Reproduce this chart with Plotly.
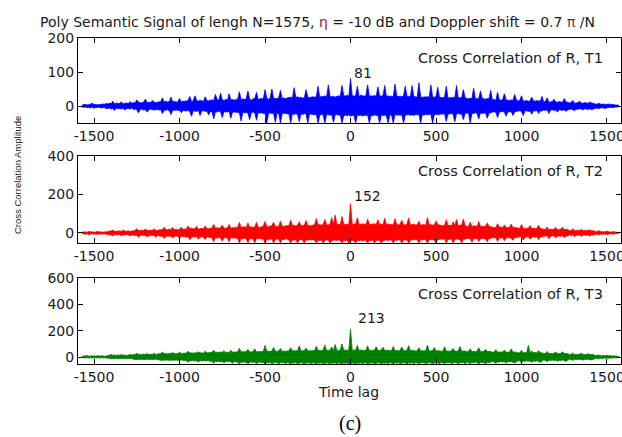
import plotly.graph_objects as go

# ---------------- data ----------------
# The 1575-sample correlations are far denser than the pixels of the picture,
# so each series is read off as its per-10-lag upper and lower envelope.
lags = list(range(-1570, 1571, 10))

t1_upper = [
    3, 4, 5, 3, 4, 6, 8, 4, 5, 3, 5, 4, 6, 5, 7,
    6, 8, 7, 14, 6, 9, 7, 8, 12, 6, 8, 9, 7, 13, 8,
    10, 9, 18, 11, 10, 9, 12, 20, 10, 11, 9, 16, 12, 10, 11,
    12, 13, 24, 11, 14, 12, 13, 26, 12, 14, 11, 13, 22, 12, 14,
    14, 15, 16, 28, 13, 15, 30, 16, 14, 17, 15, 14, 27, 16, 15,
    17, 18, 16, 34, 19, 17, 38, 18, 16, 20, 17, 36, 18, 19, 17,
    19, 20, 42, 18, 21, 19, 22, 44, 20, 18, 21, 22, 40, 19, 21,
    22, 21, 48, 23, 20, 24, 50, 22, 23, 21, 25, 46, 22, 24, 21,
    24, 25, 26, 23, 54, 25, 27, 24, 26, 23, 25, 48, 27, 24, 26,
    27, 26, 28, 58, 25, 29, 27, 30, 26, 62, 28, 27, 29, 26, 28,
    30, 28, 60, 31, 29, 32, 28, 81, 30, 29, 31, 58, 28, 32, 30,
    29, 31, 62, 28, 30, 29, 31, 28, 56, 30, 29, 31, 60, 28, 30,
    28, 29, 27, 64, 30, 28, 29, 27, 30, 58, 28, 29, 27, 60, 28,
    27, 26, 68, 28, 25, 27, 26, 28, 25, 62, 27, 26, 28, 55, 26,
    25, 24, 26, 58, 23, 25, 24, 26, 24, 60, 23, 25, 24, 48, 25,
    22, 21, 23, 22, 52, 20, 22, 21, 44, 23, 21, 20, 22, 21, 46,
    18, 19, 17, 40, 18, 17, 19, 36, 18, 17, 16, 18, 17, 34, 18,
    15, 16, 30, 14, 15, 16, 14, 15, 26, 15, 14, 16, 15, 14, 28,
    12, 13, 24, 11, 12, 13, 20, 12, 11, 13, 12, 11, 22, 12, 11,
    9, 10, 16, 8, 9, 10, 14, 9, 8, 10, 9, 8, 12, 9, 8,
    6, 5, 8, 6, 5, 6, 4, 5, 6, 4, 5, 4, 3, 3, 2,
]
t1_lower = [
    -3, -4, -3, -5, -4, -6, -3, -7, -4, -5, -3, -6, -5, -4, -8,
    -7, -6, -9, -7, -13, -6, -8, -7, -9, -6, -12, -8, -7, -9, -6,
    -10, -9, -11, -20, -10, -9, -12, -10, -18, -11, -9, -10, -12, -11, -10,
    -12, -11, -22, -13, -12, -11, -14, -25, -12, -13, -11, -14, -12, -20, -13,
    -14, -15, -13, -16, -30, -14, -15, -16, -13, -28, -15, -14, -16, -15, -26,
    -16, -17, -38, -16, -18, -15, -17, -34, -16, -18, -17, -16, -36, -17, -18,
    -18, -19, -20, -44, -18, -20, -19, -21, -40, -19, -18, -20, -42, -19, -21,
    -20, -22, -21, -50, -23, -20, -22, -21, -48, -22, -21, -50, -23, -21, -22,
    -23, -24, -50, -22, -25, -23, -24, -46, -23, -25, -22, -24, -50, -23, -24,
    -25, -26, -24, -50, -27, -25, -26, -50, -24, -26, -27, -25, -48, -26, -25,
    -27, -26, -50, -28, -27, -29, -26, -30, -28, -27, -50, -26, -28, -27, -29,
    -27, -28, -26, -50, -27, -29, -26, -28, -27, -50, -26, -28, -27, -29, -50,
    -26, -27, -50, -25, -27, -26, -28, -25, -50, -27, -26, -25, -27, -26, -28,
    -25, -26, -24, -50, -25, -27, -24, -26, -25, -24, -50, -26, -25, -24, -26,
    -23, -24, -22, -45, -24, -23, -22, -24, -46, -23, -22, -24, -23, -40, -22,
    -21, -20, -50, -21, -22, -20, -21, -38, -20, -22, -21, -20, -36, -21, -20,
    -18, -17, -19, -34, -18, -17, -16, -18, -30, -17, -18, -16, -28, -17, -16,
    -15, -14, -16, -28, -15, -14, -16, -15, -24, -14, -15, -13, -22, -14, -15,
    -12, -13, -11, -22, -12, -11, -13, -12, -18, -11, -12, -13, -11, -16, -12,
    -10, -9, -11, -14, -9, -10, -8, -9, -12, -8, -9, -10, -8, -11, -9,
    -7, -6, -8, -6, -5, -6, -7, -5, -4, -5, -4, -5, -3, -3, -2,
]

t2_upper = [
    4, 5, 6, 4, 9, 5, 6, 4, 5, 8, 6, 5, 4, 6, 5,
    8, 9, 11, 16, 8, 10, 9, 11, 8, 15, 10, 9, 11, 8, 10,
    12, 14, 22, 13, 12, 15, 13, 20, 14, 12, 15, 13, 22, 14, 13,
    16, 18, 17, 30, 19, 16, 20, 18, 28, 17, 19, 16, 20, 30, 18,
    21, 20, 36, 22, 24, 21, 23, 34, 20, 22, 24, 21, 36, 23, 22,
    25, 26, 44, 24, 27, 25, 28, 40, 26, 24, 27, 44, 25, 28, 26,
    29, 30, 55, 28, 31, 33, 29, 52, 30, 32, 28, 31, 55, 30, 29,
    33, 35, 60, 34, 32, 36, 38, 56, 33, 35, 34, 62, 36, 33, 37,
    37, 39, 66, 38, 40, 36, 41, 58, 39, 37, 42, 64, 38, 40, 36,
    41, 43, 75, 42, 44, 40, 45, 70, 43, 41, 46, 80, 42, 93, 44,
    45, 43, 85, 46, 44, 47, 42, 152, 44, 46, 48, 79, 43, 45, 47,
    46, 44, 72, 45, 43, 47, 48, 44, 68, 45, 46, 43, 76, 44, 47,
    43, 45, 41, 74, 44, 42, 46, 66, 43, 41, 45, 78, 42, 44, 46,
    41, 43, 60, 40, 42, 44, 39, 80, 41, 43, 42, 40, 62, 44, 41,
    39, 37, 40, 68, 38, 41, 36, 58, 39, 70, 37, 40, 42, 72, 38,
    35, 34, 56, 33, 36, 37, 32, 60, 34, 35, 33, 36, 52, 34, 33,
    30, 29, 28, 48, 30, 31, 27, 42, 29, 28, 30, 46, 27, 29, 28,
    24, 25, 44, 23, 22, 25, 24, 38, 23, 26, 22, 24, 40, 23, 22,
    18, 19, 30, 17, 20, 18, 19, 28, 17, 18, 20, 30, 17, 19, 18,
    13, 12, 22, 11, 13, 14, 12, 20, 11, 13, 12, 14, 16, 11, 12,
    8, 7, 12, 8, 6, 7, 6, 10, 6, 5, 6, 7, 5, 4, 3,
]
t2_lower = [
    -4, -5, -6, -4, -9, -5, -4, -6, -5, -8, -4, -6, -5, -4, -7,
    -8, -9, -10, -15, -8, -9, -10, -8, -14, -9, -10, -8, -9, -15, -10,
    -11, -13, -12, -22, -14, -11, -13, -12, -20, -14, -12, -13, -11, -22, -13,
    -15, -17, -16, -28, -18, -15, -17, -16, -26, -18, -15, -17, -28, -16, -18,
    -19, -21, -20, -35, -22, -19, -21, -20, -32, -22, -19, -21, -34, -20, -22,
    -23, -25, -45, -24, -27, -23, -26, -42, -25, -24, -27, -45, -23, -26, -25,
    -27, -29, -52, -28, -31, -27, -30, -50, -29, -28, -31, -52, -27, -30, -29,
    -30, -33, -52, -31, -35, -32, -30, -52, -34, -31, -33, -52, -32, -35, -30,
    -33, -36, -52, -35, -38, -34, -52, -36, -33, -37, -52, -35, -38, -34, -36,
    -35, -38, -52, -37, -40, -36, -52, -39, -35, -38, -52, -40, -36, -37, -39,
    -36, -40, -52, -38, -42, -37, -52, -40, -39, -41, -52, -38, -40, -37, -42,
    -37, -39, -52, -38, -41, -36, -52, -40, -37, -39, -52, -41, -38, -36, -40,
    -35, -37, -52, -36, -39, -34, -38, -52, -36, -35, -37, -52, -39, -34, -36,
    -33, -35, -52, -34, -37, -32, -36, -52, -34, -33, -35, -37, -52, -32, -34,
    -31, -33, -30, -52, -32, -34, -30, -52, -33, -31, -32, -34, -52, -30, -32,
    -28, -30, -27, -48, -29, -31, -27, -44, -30, -28, -29, -31, -46, -27, -29,
    -24, -26, -23, -44, -25, -27, -23, -40, -26, -24, -25, -27, -38, -23, -25,
    -20, -21, -19, -36, -22, -20, -19, -32, -21, -20, -22, -19, -34, -20, -21,
    -15, -16, -14, -30, -17, -15, -14, -26, -16, -15, -17, -14, -24, -15, -16,
    -11, -12, -10, -20, -11, -12, -10, -18, -11, -10, -12, -11, -16, -10, -11,
    -7, -6, -10, -5, -7, -6, -5, -8, -6, -4, -5, -6, -4, -3, -2,
]

t3_upper = [
    6, 7, 9, 12, 6, 8, 7, 9, 6, 11, 8, 7, 9, 6, 8,
    12, 14, 20, 13, 15, 12, 16, 14, 18, 13, 15, 12, 14, 20, 16,
    18, 20, 28, 19, 21, 18, 22, 20, 26, 19, 21, 18, 28, 20, 22,
    24, 26, 38, 25, 27, 24, 28, 26, 34, 25, 27, 24, 38, 26, 28,
    29, 31, 44, 30, 32, 29, 33, 31, 40, 30, 32, 29, 44, 31, 33,
    34, 36, 52, 35, 37, 34, 38, 36, 48, 35, 37, 34, 52, 36, 38,
    38, 40, 66, 39, 41, 38, 43, 58, 40, 39, 41, 62, 38, 42, 40,
    42, 44, 88, 43, 45, 42, 47, 72, 44, 43, 46, 64, 42, 45, 44,
    45, 47, 70, 46, 48, 45, 50, 84, 47, 46, 49, 68, 45, 48, 47,
    48, 50, 82, 49, 51, 48, 53, 90, 50, 49, 52, 76, 48, 95, 50,
    50, 52, 100, 51, 53, 50, 55, 213, 52, 51, 54, 88, 50, 53, 52,
    49, 51, 85, 50, 52, 48, 54, 78, 51, 49, 53, 74, 50, 52, 51,
    47, 49, 80, 48, 50, 47, 52, 76, 49, 47, 51, 86, 48, 50, 49,
    45, 47, 70, 46, 48, 45, 50, 90, 47, 45, 49, 72, 46, 48, 47,
    43, 45, 78, 44, 46, 43, 48, 64, 45, 43, 47, 80, 44, 46, 45,
    40, 42, 62, 41, 43, 40, 45, 70, 42, 40, 44, 58, 41, 43, 42,
    36, 38, 56, 37, 39, 36, 40, 52, 38, 36, 39, 62, 37, 38, 37,
    31, 33, 50, 32, 34, 31, 88, 33, 46, 32, 34, 31, 48, 33, 32,
    25, 27, 42, 26, 28, 25, 29, 38, 27, 25, 28, 40, 26, 27, 26,
    18, 20, 30, 19, 21, 18, 22, 28, 20, 18, 21, 24, 19, 20, 19,
    12, 11, 16, 10, 11, 12, 10, 14, 9, 10, 8, 9, 7, 6, 5,
]
t3_lower = [
    -5, -6, -8, -5, -7, -6, -8, -5, -7, -6, -5, -8, -6, -7, -5,
    -10, -12, -14, -11, -13, -10, -14, -12, -11, -13, -10, -14, -12, -11, -13,
    -16, -18, -20, -17, -19, -16, -20, -18, -17, -19, -16, -20, -18, -17, -19,
    -22, -24, -26, -23, -25, -22, -26, -24, -23, -25, -22, -26, -24, -23, -25,
    -27, -29, -40, -28, -30, -27, -31, -29, -38, -28, -30, -27, -31, -29, -28,
    -32, -34, -48, -33, -36, -32, -37, -34, -45, -33, -35, -32, -37, -48, -34,
    -37, -39, -53, -38, -41, -37, -42, -53, -39, -38, -41, -37, -53, -40, -39,
    -40, -43, -53, -42, -45, -40, -53, -44, -41, -43, -53, -42, -45, -40, -53,
    -42, -45, -53, -44, -47, -42, -53, -46, -43, -45, -53, -44, -47, -42, -53,
    -43, -46, -53, -45, -48, -43, -53, -47, -44, -46, -53, -45, -48, -43, -53,
    -44, -47, -53, -46, -48, -44, -53, -47, -45, -47, -53, -46, -48, -44, -53,
    -43, -46, -53, -45, -48, -43, -53, -47, -44, -46, -53, -45, -48, -43, -53,
    -42, -45, -53, -44, -47, -42, -53, -46, -43, -45, -53, -44, -47, -42, -53,
    -41, -44, -53, -43, -46, -41, -53, -45, -42, -44, -53, -43, -46, -41, -53,
    -40, -43, -53, -42, -45, -40, -53, -44, -41, -43, -53, -42, -45, -40, -53,
    -38, -41, -53, -40, -43, -38, -44, -53, -39, -41, -42, -53, -40, -43, -38,
    -34, -37, -50, -36, -39, -34, -38, -36, -48, -35, -37, -34, -39, -46, -36,
    -29, -31, -44, -30, -33, -29, -32, -31, -40, -30, -32, -29, -33, -42, -31,
    -23, -25, -36, -24, -27, -23, -26, -25, -32, -24, -26, -23, -27, -34, -25,
    -16, -18, -26, -17, -20, -16, -19, -18, -24, -17, -19, -16, -20, -22, -18,
    -12, -10, -14, -9, -11, -10, -8, -9, -10, -7, -8, -6, -7, -5, -4,
]

peaks = [81, 152, 213]
series_names = ["Cross Correlation of R, T1", "Cross Correlation of R, T2", "Cross Correlation of R, T3"]
series_colors = ["#0000ff", "#ff0000", "#008000"]
x_ticks = [-1500, -1000, -500, 0, 500, 1000, 1500]
y_ticks = [[0, 100, 200], [0, 200, 400], [0, 200, 400, 600]]
y_ranges = [[-50, 200], [-52, 400], [-53, 600]]

uppers = [t1_upper, t2_upper, t3_upper]
lowers = [t1_lower, t2_lower, t3_lower]
for u, l in zip(uppers, lowers):
    assert len(u) == len(l) == len(lags)

# ---------------- layout ----------------
W, H = 622, 437
FONT = "DejaVu Sans"
TXT = "#1a1a1a"

x_dom = [78 / W, 621 / W]
y_doms = [
    [1 - 123 / H, 1 - 38 / H],
    [1 - 243 / H, 1 - 156 / H],
    [1 - 364 / H, 1 - 278 / H],
]
name_y = [141, 323, 478]
peak_label_y = [98, 190, 296]

fig = go.Figure()
for i in range(3):
    sfx = "" if i == 0 else str(i + 1)
    fig.add_trace(go.Scatter(
        x=lags, y=lowers[i], mode="lines",
        line=dict(color=series_colors[i], width=0.8, simplify=False),
        xaxis="x" + sfx, yaxis="y" + sfx, showlegend=False, hoverinfo="skip",
    ))
    fig.add_trace(go.Scatter(
        x=lags, y=uppers[i], mode="lines",
        line=dict(color=series_colors[i], width=0.8, simplify=False),
        fill="tonexty", fillcolor=series_colors[i],
        xaxis="x" + sfx, yaxis="y" + sfx, showlegend=False, hoverinfo="skip",
    ))

axis_common = dict(
    showline=True, linecolor="#000000", linewidth=1, mirror="ticks",
    ticks="inside", ticklen=5, tickcolor="#000000", tickwidth=1,
    showgrid=False, zeroline=False, automargin=False,
    ticklabeloverflow="allow",
    tickfont=dict(family=FONT, size=14, color=TXT),
)

layout = dict(
    width=W, height=H,
    margin=dict(l=0, r=0, t=0, b=0, pad=0, autoexpand=False),
    paper_bgcolor="white", plot_bgcolor="white",
    showlegend=False,
    font=dict(family=FONT, size=14, color=TXT),
)
for i in range(3):
    sfx = "" if i == 0 else str(i + 1)
    layout["xaxis" + sfx] = dict(
        axis_common, domain=x_dom, range=[-1594, 1582],
        tickvals=x_ticks, ticktext=[str(v) for v in x_ticks],
        anchor="y" + sfx,
    )
    layout["yaxis" + sfx] = dict(
        axis_common, domain=y_doms[i], range=y_ranges[i],
        tickvals=y_ticks[i], ticktext=[str(v) for v in y_ticks[i]],
        anchor="x" + sfx,
    )
fig.update_layout(**layout)

ann = []
for i in range(3):
    sfx = "" if i == 0 else str(i + 1)
    ann.append(dict(
        x=1488, y=name_y[i], xref="x" + sfx, yref="y" + sfx,
        text=series_names[i], showarrow=False, xanchor="right", yanchor="middle",
        font=dict(family=FONT, size=14.5, color=TXT),
    ))
    ann.append(dict(
        x=10 if i < 2 else 30, y=peak_label_y[i], xref="x" + sfx, yref="y" + sfx,
        text=str(peaks[i]), showarrow=False, xanchor="left", yanchor="middle",
        font=dict(family=FONT, size=14, color=TXT),
    ))

ann.append(dict(
    x=317 / W, y=1 - 22 / H, xref="paper", yref="paper",
    text="Poly Semantic Signal of lengh N=1575, <span style='color:#8b1c4a'>η</span> = -10 dB and Doppler shift = 0.7 <span style='color:#8b1c4a'>π</span> /N",
    showarrow=False, xanchor="center", yanchor="middle",
    font=dict(family=FONT, size=14, color=TXT),
))
ann.append(dict(
    x=18 / W, y=1 - 175 / H, xref="paper", yref="paper",
    text="Cross Correlation Amplitude", textangle=-90,
    showarrow=False, xanchor="center", yanchor="middle",
    font=dict(family="Liberation Sans", size=9.5, color="#222222"),
))
ann.append(dict(
    x=349 / W, y=1 - 392 / H, xref="paper", yref="paper",
    text="Time lag", showarrow=False, xanchor="center", yanchor="middle",
    font=dict(family=FONT, size=14, color=TXT),
))
ann.append(dict(
    x=350 / W, y=1 - 423 / H, xref="paper", yref="paper",
    text="(c)", showarrow=False, xanchor="center", yanchor="middle",
    font=dict(family="Liberation Serif", size=20, color="#000000"),
))
fig.update_layout(annotations=ann)

fig.write_html(
    "out.html",
    config={"displayModeBar": False},
    post_script="document.body.style.margin='0';document.body.style.overflow='hidden';",
)
